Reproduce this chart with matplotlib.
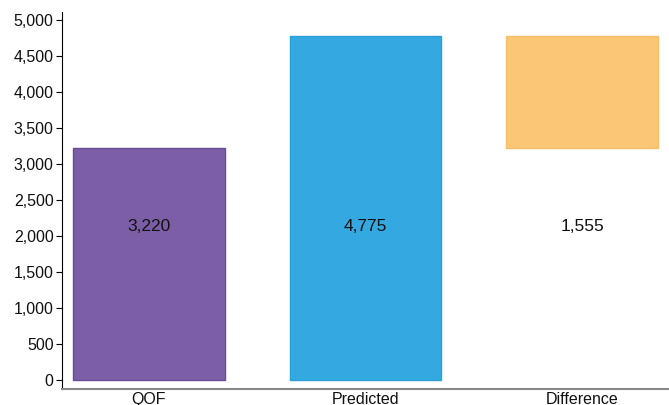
import matplotlib.pyplot as plt
import numpy as np

plt.rcParams['font.family'] = ['Liberation Sans', 'DejaVu Sans']

# data
categories = ['QOF', 'Predicted', 'Difference']
qof = 3220
predicted = 4775
bottoms = [0, 0, qof]
heights = [qof, predicted, predicted - qof]
labels = ['3,220', '4,775', '1,555']

colors = ['#7b5ea5', '#34a9e1', '#fbc774']
edges = ['#6a4c97', '#2a9fd8', '#f8bf6a']

fig = plt.figure(figsize=(6.69, 4.05), dpi=100)
ax = fig.add_axes([62 / 669, 16 / 405, 607 / 669, 377 / 405])

x = np.arange(len(categories))
ax.bar(x, heights, bottom=bottoms, width=0.7, color=colors, edgecolor=edges, linewidth=1)

for i, t in enumerate(labels):
    ax.text(x[i], 2130, t, ha='center', va='center', fontsize=12.5, color='#111111')

ax.set_xlim(-0.4, 2.4)
ax.set_ylim(-125, 5111)
ax.set_yticks(np.arange(0, 5001, 500))
ax.set_yticklabels([f'{v:,}' for v in range(0, 5001, 500)])
ax.set_xticks(x)
ax.set_xticklabels(categories)

ax.spines['top'].set_visible(False)
ax.spines['right'].set_visible(False)
ax.spines['left'].set_color('#000000')
ax.spines['bottom'].set_color('#888888')
ax.spines['bottom'].set_linewidth(1.5)
ax.tick_params(axis='y', labelsize=11.5, length=4, color='#000000', pad=2, labelcolor='#111111')
ax.tick_params(axis='x', labelsize=11.5, length=0, pad=2, labelcolor='#111111')

fig.savefig('out.png', dpi=100)
